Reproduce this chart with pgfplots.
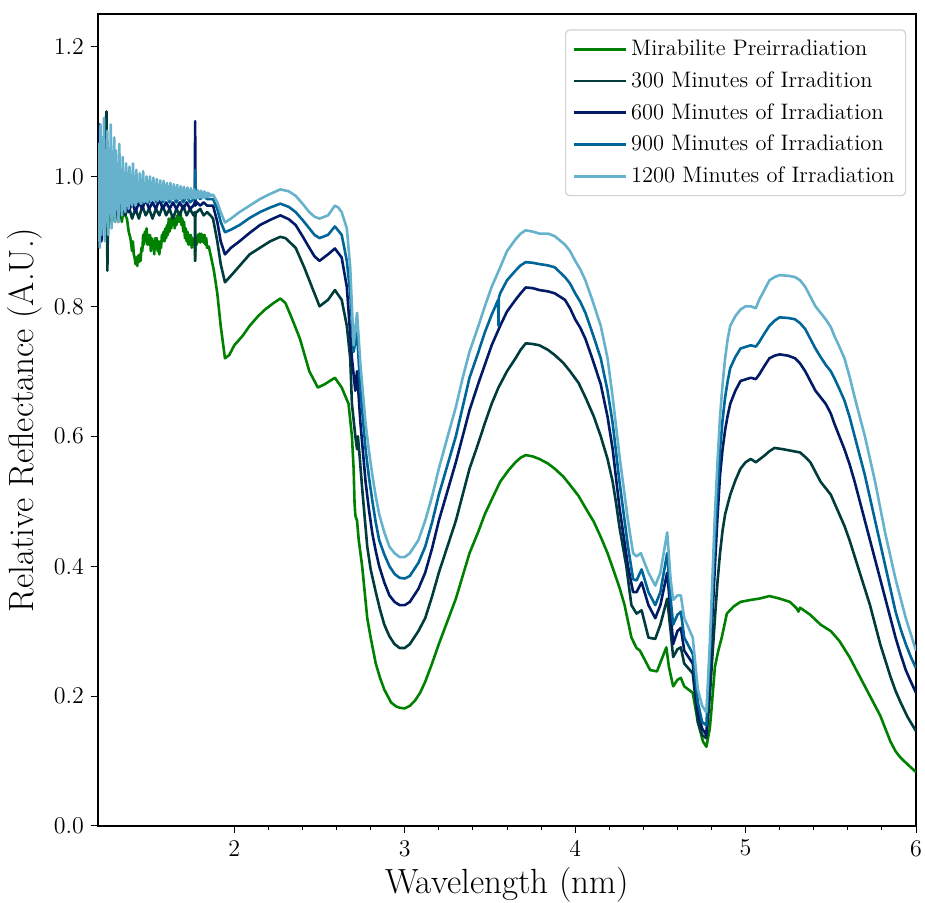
\documentclass[border=0pt]{standalone}
\usepackage{pgfplots}
\pgfplotsset{compat=1.18}

\definecolor{cPre}{RGB}{0,128,0}
\definecolor{cA}{RGB}{0,60,60}
\definecolor{cB}{RGB}{0,26,102}
\definecolor{cC}{RGB}{0,102,153}
\definecolor{cD}{RGB}{102,178,204}

\begin{document}
\begin{tikzpicture}
\path[use as bounding box] (-49pt,-38.5pt) rectangle (413.5pt,413pt);
\begin{axis}[
  scale only axis,
  width=409pt, height=406pt,
  xmin=1.2, xmax=6, ymin=0, ymax=1.25,
  xtick={2,3,4,5,6},
  minor x tick num=4,
  ytick={0,0.2,0.4,0.6,0.8,1.0,1.2},
  yticklabel style={/pgf/number format/.cd, fixed, fixed zerofill, precision=1},
  /pgf/number format/assume math mode=true,
  tick label style={font=\fontsize{12}{14}\selectfont},
  tick align=outside,
  major tick length=3.5pt,
  minor tick length=2pt,
  tick style={black, line width=0.5pt},
  xtick pos=bottom, ytick pos=left,
  axis line style={line width=0.6pt},
  xlabel={Wavelength (nm)},
  ylabel={Relative Reflectance (A.U.)},
  label style={font=\fontsize{17.5}{20}\selectfont},
  xlabel style={at={(axis description cs:0.5,0)}, yshift=-29.5pt, anchor=center},
  ylabel style={at={(axis description cs:0,0.5)}, anchor=center, yshift=36.5pt},
  legend style={at={(rel axis cs:0.988,0.981)}, anchor=north east,
    draw=black!18, rounded corners=2pt, line width=0.6pt,
    font=\fontsize{11.2}{13}\selectfont, row sep=2.5pt,
    inner xsep=3.5pt, inner ysep=3pt},
  legend cell align=left,
  legend image code/.code={\draw[#1, line width=1.3pt] (0pt,0pt) -- (22.5pt,0pt);
    \path (0pt,0pt) -- (26pt,0pt);},
  every axis plot/.append style={line width=1.3pt, line join=round},
]

% Mirabilite before irradiation
\addplot[cPre] coordinates {
(1.20,0.95) (1.22,0.93) (1.24,0.96) (1.26,0.92) (1.28,0.95) (1.30,0.93)
(1.31,0.955) (1.32,0.935) (1.33,0.955) (1.34,0.93) (1.35,0.95) (1.36,0.94)
(1.37,0.935) (1.38,0.915) (1.39,0.905) (1.40,0.885) (1.405,0.9) (1.41,0.88)
(1.415,0.875) (1.42,0.865) (1.425,0.875) (1.43,0.862) (1.435,0.878) (1.44,0.868)
(1.445,0.88) (1.45,0.87) (1.455,0.89) (1.46,0.885) (1.465,0.91) (1.47,0.895)
(1.475,0.915) (1.48,0.90) (1.485,0.92) (1.49,0.895) (1.495,0.91) (1.50,0.895)
(1.505,0.91) (1.51,0.885) (1.515,0.905) (1.52,0.89) (1.525,0.9) (1.53,0.88)
(1.535,0.905) (1.54,0.89) (1.545,0.905) (1.55,0.885) (1.555,0.9) (1.56,0.88)
(1.565,0.9) (1.57,0.89) (1.575,0.91) (1.58,0.9) (1.585,0.915) (1.59,0.9)
(1.595,0.92) (1.60,0.905) (1.605,0.925) (1.61,0.91) (1.615,0.935) (1.62,0.915)
(1.625,0.935) (1.63,0.92) (1.635,0.94) (1.64,0.925) (1.645,0.94) (1.65,0.92)
(1.655,0.935) (1.66,0.925) (1.665,0.94) (1.67,0.93) (1.675,0.945) (1.68,0.93)
(1.685,0.945) (1.69,0.925) (1.695,0.935) (1.70,0.915) (1.705,0.93) (1.71,0.905)
(1.715,0.92) (1.72,0.9) (1.725,0.915) (1.73,0.895) (1.735,0.91) (1.74,0.895)
(1.745,0.91) (1.75,0.89) (1.755,0.905) (1.76,0.895) (1.768,0.9) (1.77,0.87)
(1.772,0.9) (1.78,0.895) (1.785,0.91) (1.79,0.9) (1.795,0.912) (1.80,0.898)
(1.805,0.912) (1.81,0.9) (1.815,0.91) (1.82,0.898) (1.825,0.91) (1.83,0.895)
(1.835,0.905) (1.84,0.89) (1.85,0.892) (1.86,0.88) (1.88,0.855) (1.90,0.82)
(1.92,0.77) (1.945,0.72) (1.97,0.725) (2.00,0.74) (2.05,0.755) (2.09,0.77)
(2.14,0.785) (2.18,0.795) (2.23,0.805) (2.27,0.812) (2.30,0.805) (2.34,0.78)
(2.385,0.75) (2.44,0.70) (2.49,0.675) (2.53,0.68) (2.56,0.685) (2.59,0.69)
(2.63,0.675) (2.67,0.65) (2.69,0.60) (2.70,0.55) (2.705,0.50) (2.71,0.478)
(2.72,0.47) (2.73,0.44) (2.75,0.40) (2.765,0.36) (2.78,0.32) (2.80,0.29)
(2.83,0.25) (2.855,0.228) (2.88,0.21) (2.92,0.19) (2.95,0.184) (2.97,0.182)
(3.00,0.181) (3.03,0.185) (3.06,0.193) (3.09,0.205) (3.12,0.222) (3.16,0.25)
(3.20,0.28) (3.25,0.315) (3.30,0.35) (3.34,0.385) (3.38,0.42) (3.43,0.452)
(3.47,0.48) (3.52,0.508) (3.56,0.53) (3.61,0.548) (3.65,0.56) (3.68,0.567)
(3.71,0.571) (3.75,0.569) (3.79,0.565) (3.84,0.558) (3.88,0.55) (3.93,0.538)
(3.97,0.525) (4.02,0.508) (4.06,0.49) (4.11,0.468) (4.15,0.445) (4.19,0.42)
(4.23,0.39) (4.26,0.367) (4.29,0.34) (4.31,0.315) (4.33,0.29) (4.36,0.274)
(4.38,0.27) (4.41,0.255) (4.44,0.24) (4.48,0.238) (4.52,0.265) (4.535,0.275)
(4.55,0.245) (4.575,0.215) (4.60,0.225) (4.62,0.228) (4.64,0.215) (4.69,0.205)
(4.72,0.16) (4.75,0.13) (4.77,0.122) (4.79,0.15) (4.80,0.18) (4.82,0.245)
(4.84,0.27) (4.86,0.29) (4.89,0.327) (4.93,0.338) (4.97,0.345) (5.03,0.348)
(5.08,0.35) (5.14,0.354) (5.20,0.35) (5.26,0.345) (5.30,0.335) (5.31,0.33)
(5.32,0.336) (5.38,0.325) (5.44,0.31) (5.50,0.30) (5.55,0.285) (5.61,0.26)
(5.67,0.23) (5.73,0.20) (5.79,0.17) (5.82,0.15) (5.85,0.13) (5.88,0.115)
(5.91,0.105) (5.95,0.095) (6.00,0.083)
};
\addlegendentry{Mirabilite Preirradiation}

% 300 minutes
\addplot[cA] coordinates {
(1.20,0.95) (1.22,0.99) (1.23,0.93) (1.24,1.06) (1.25,1.10) (1.255,0.855)
(1.26,0.96) (1.28,0.94) (1.30,0.97) (1.32,0.93) (1.34,0.96) (1.36,0.94)
(1.38,0.955) (1.40,0.935) (1.42,0.95) (1.44,0.935) (1.46,0.955) (1.48,0.94)
(1.50,0.95) (1.52,0.935) (1.54,0.95) (1.56,0.94) (1.58,0.955) (1.60,0.94)
(1.62,0.95) (1.64,0.935) (1.66,0.95) (1.68,0.94) (1.70,0.955) (1.72,0.94)
(1.74,0.95) (1.76,0.94) (1.768,0.945) (1.77,0.87) (1.772,0.945) (1.78,0.945)
(1.80,0.95) (1.82,0.94) (1.84,0.945) (1.86,0.94) (1.875,0.935) (1.90,0.90)
(1.92,0.865) (1.945,0.837) (1.99,0.85) (2.04,0.865) (2.09,0.88) (2.15,0.89)
(2.21,0.90) (2.27,0.907) (2.30,0.905) (2.36,0.89) (2.41,0.86) (2.47,0.82)
(2.50,0.80) (2.55,0.81) (2.59,0.825) (2.63,0.81) (2.66,0.77) (2.68,0.72)
(2.69,0.65) (2.71,0.60) (2.72,0.58) (2.725,0.60) (2.735,0.57) (2.75,0.52)
(2.765,0.475) (2.78,0.43) (2.80,0.395) (2.83,0.36) (2.855,0.333) (2.88,0.31)
(2.91,0.292) (2.94,0.28) (2.97,0.274) (3.00,0.274) (3.03,0.28) (3.08,0.30)
(3.12,0.32) (3.16,0.353) (3.20,0.39) (3.25,0.43) (3.30,0.47) (3.34,0.51)
(3.38,0.55) (3.43,0.588) (3.47,0.62) (3.51,0.65) (3.55,0.675) (3.60,0.70)
(3.65,0.72) (3.68,0.733) (3.71,0.743) (3.75,0.742) (3.79,0.74) (3.84,0.733)
(3.88,0.725) (3.93,0.713) (3.97,0.70) (4.02,0.682) (4.06,0.66) (4.11,0.63)
(4.15,0.60) (4.19,0.565) (4.22,0.53) (4.24,0.497) (4.26,0.46) (4.28,0.43)
(4.30,0.40) (4.33,0.34) (4.36,0.327) (4.39,0.332) (4.43,0.29) (4.47,0.288)
(4.50,0.31) (4.54,0.35) (4.56,0.30) (4.575,0.26) (4.60,0.272) (4.62,0.275)
(4.64,0.25) (4.69,0.235) (4.72,0.16) (4.745,0.14) (4.77,0.135) (4.79,0.20)
(4.805,0.26) (4.82,0.32) (4.835,0.375) (4.85,0.42) (4.865,0.455) (4.88,0.48)
(4.91,0.51) (4.94,0.532) (4.97,0.55) (5.00,0.56) (5.03,0.565) (5.06,0.56)
(5.11,0.57) (5.14,0.577) (5.17,0.582) (5.22,0.58) (5.26,0.578) (5.32,0.575)
(5.35,0.568) (5.38,0.56) (5.41,0.545) (5.44,0.53) (5.47,0.52) (5.50,0.51)
(5.525,0.495) (5.55,0.48) (5.58,0.462) (5.61,0.44) (5.64,0.415) (5.67,0.39)
(5.70,0.365) (5.73,0.34) (5.76,0.31) (5.79,0.28) (5.82,0.255) (5.85,0.23)
(5.88,0.208) (5.91,0.19) (5.95,0.168) (6.00,0.146)
};
\addlegendentry{300 Minutes of Irradition}

% 600 minutes
\addplot[cB] coordinates {
(1.20,0.97) (1.21,1.08) (1.22,0.90) (1.24,1.02) (1.26,0.95) (1.28,0.98)
(1.30,0.94) (1.32,0.97) (1.34,0.95) (1.36,0.965) (1.38,0.945) (1.40,0.96)
(1.42,0.945) (1.44,0.96) (1.46,0.95) (1.48,0.965) (1.50,0.95) (1.52,0.96)
(1.54,0.95) (1.56,0.965) (1.58,0.95) (1.60,0.96) (1.62,0.95) (1.64,0.96)
(1.66,0.95) (1.68,0.96) (1.70,0.95) (1.72,0.96) (1.74,0.95) (1.76,0.955)
(1.768,0.96) (1.77,1.085) (1.772,0.955) (1.78,0.96) (1.80,0.955) (1.82,0.96)
(1.84,0.955) (1.875,0.955) (1.90,0.93) (1.92,0.90) (1.945,0.88) (1.98,0.89)
(2.03,0.90) (2.09,0.913) (2.15,0.925) (2.21,0.933) (2.27,0.94) (2.32,0.934)
(2.36,0.925) (2.40,0.908) (2.44,0.89) (2.47,0.877) (2.50,0.87) (2.55,0.88)
(2.59,0.889) (2.63,0.875) (2.66,0.83) (2.69,0.72) (2.71,0.67) (2.72,0.70)
(2.74,0.62) (2.755,0.575) (2.77,0.53) (2.79,0.487) (2.81,0.45) (2.83,0.423)
(2.85,0.40) (2.88,0.375) (2.91,0.355) (2.94,0.345) (2.97,0.34) (3.00,0.34)
(3.03,0.345) (3.08,0.365) (3.12,0.39) (3.16,0.427) (3.20,0.47) (3.25,0.515)
(3.30,0.56) (3.34,0.60) (3.38,0.64) (3.43,0.68) (3.47,0.71) (3.51,0.74)
(3.56,0.77) (3.60,0.792) (3.65,0.81) (3.68,0.82) (3.71,0.829) (3.75,0.828)
(3.79,0.825) (3.84,0.823) (3.88,0.82) (3.94,0.81) (3.97,0.797) (4.00,0.78)
(4.03,0.767) (4.06,0.75) (4.10,0.72) (4.15,0.68) (4.19,0.63) (4.22,0.58)
(4.24,0.535) (4.26,0.49) (4.285,0.445) (4.31,0.40) (4.34,0.36) (4.36,0.36)
(4.39,0.375) (4.43,0.34) (4.47,0.32) (4.50,0.34) (4.54,0.39) (4.56,0.33)
(4.575,0.28) (4.60,0.30) (4.62,0.305) (4.64,0.27) (4.69,0.25) (4.72,0.175)
(4.745,0.15) (4.77,0.14) (4.79,0.24) (4.805,0.32) (4.82,0.40) (4.835,0.475)
(4.85,0.54) (4.865,0.58) (4.88,0.61) (4.895,0.632) (4.91,0.65) (4.94,0.67)
(4.97,0.685) (5.03,0.69) (5.06,0.688) (5.08,0.695) (5.11,0.708) (5.14,0.72)
(5.17,0.724) (5.20,0.726) (5.25,0.724) (5.29,0.72) (5.32,0.712) (5.35,0.70)
(5.38,0.685) (5.41,0.67) (5.44,0.66) (5.47,0.65) (5.50,0.635) (5.52,0.62)
(5.55,0.60) (5.58,0.58) (5.61,0.557) (5.64,0.53) (5.67,0.50) (5.70,0.47)
(5.73,0.44) (5.76,0.41) (5.79,0.38) (5.82,0.35) (5.85,0.32) (5.88,0.29)
(5.91,0.264) (5.94,0.24) (5.97,0.222) (6.00,0.205)
};
\addlegendentry{600 Minutes of Irradiation}

% 900 minutes
\addplot[cC] coordinates {
(1.20,0.96) (1.21,1.05) (1.22,0.92) (1.24,1.03) (1.26,0.95) (1.28,0.99)
(1.30,0.95) (1.32,0.98) (1.34,0.955) (1.36,0.975) (1.38,0.96) (1.40,0.975)
(1.42,0.96) (1.44,0.97) (1.46,0.96) (1.48,0.975) (1.50,0.96) (1.52,0.97)
(1.54,0.96) (1.56,0.975) (1.58,0.96) (1.60,0.97) (1.62,0.96) (1.64,0.97)
(1.66,0.96) (1.68,0.97) (1.70,0.96) (1.72,0.97) (1.74,0.96) (1.76,0.965)
(1.768,0.965) (1.77,1.01) (1.772,0.965) (1.78,0.97) (1.80,0.965) (1.82,0.97)
(1.84,0.965) (1.875,0.965) (1.90,0.95) (1.92,0.93) (1.945,0.914) (1.98,0.918)
(2.03,0.925) (2.09,0.936) (2.15,0.945) (2.21,0.952) (2.27,0.958) (2.32,0.953)
(2.36,0.945) (2.40,0.933) (2.44,0.92) (2.47,0.91) (2.50,0.905) (2.55,0.91)
(2.59,0.923) (2.63,0.91) (2.66,0.87) (2.68,0.82) (2.70,0.73) (2.72,0.76)
(2.74,0.67) (2.755,0.625) (2.77,0.58) (2.79,0.537) (2.81,0.50) (2.83,0.467)
(2.85,0.44) (2.88,0.418) (2.91,0.40) (2.94,0.388) (2.97,0.382) (3.00,0.381)
(3.03,0.385) (3.08,0.405) (3.12,0.43) (3.16,0.467) (3.20,0.51) (3.25,0.555)
(3.30,0.60) (3.34,0.645) (3.38,0.69) (3.43,0.728) (3.47,0.76) (3.51,0.787)
(3.548,0.81) (3.55,0.77) (3.552,0.813) (3.56,0.82) (3.60,0.84) (3.65,0.855)
(3.68,0.863) (3.71,0.868) (3.75,0.867) (3.79,0.865) (3.84,0.863) (3.88,0.86)
(3.94,0.845) (3.97,0.835) (4.00,0.82) (4.03,0.807) (4.06,0.79) (4.10,0.76)
(4.15,0.72) (4.19,0.67) (4.22,0.62) (4.24,0.575) (4.26,0.53) (4.285,0.48)
(4.31,0.43) (4.34,0.38) (4.36,0.378) (4.39,0.395) (4.43,0.36) (4.47,0.34)
(4.50,0.36) (4.54,0.42) (4.56,0.35) (4.575,0.31) (4.60,0.325) (4.62,0.33)
(4.64,0.29) (4.69,0.265) (4.72,0.19) (4.745,0.16) (4.77,0.155) (4.79,0.26)
(4.805,0.35) (4.82,0.44) (4.835,0.515) (4.85,0.58) (4.865,0.625) (4.88,0.66)
(4.895,0.685) (4.91,0.705) (4.94,0.722) (4.97,0.735) (5.03,0.74) (5.06,0.738)
(5.08,0.745) (5.11,0.758) (5.14,0.77) (5.17,0.778) (5.20,0.783) (5.25,0.782)
(5.29,0.78) (5.32,0.774) (5.35,0.765) (5.38,0.75) (5.41,0.735) (5.44,0.722)
(5.47,0.71) (5.50,0.70) (5.52,0.69) (5.55,0.673) (5.58,0.655) (5.61,0.63)
(5.64,0.60) (5.67,0.57) (5.70,0.54) (5.73,0.505) (5.76,0.47) (5.79,0.435)
(5.82,0.40) (5.85,0.365) (5.88,0.33) (5.91,0.303) (5.94,0.28) (5.97,0.26)
(6.00,0.243)
};
\addlegendentry{900 Minutes of Irradiation}

% 1200 minutes
\addplot[cD] coordinates {
(1.200,0.90) (1.205,1.05) (1.210,0.89) (1.215,1.08) (1.220,0.91) (1.225,1.06)
(1.230,0.92) (1.235,1.09) (1.240,0.90) (1.245,1.04) (1.250,0.93) (1.255,1.07)
(1.260,0.91) (1.265,1.03) (1.270,0.95) (1.275,1.08) (1.280,0.92) (1.285,1.02)
(1.290,0.94) (1.295,1.06) (1.300,0.93) (1.305,1.04) (1.310,0.95) (1.315,1.02)
(1.320,0.93) (1.325,1.05) (1.330,0.96) (1.335,1.01) (1.340,0.94) (1.345,1.03)
(1.350,0.95) (1.355,1.00) (1.360,0.945) (1.365,1.02) (1.370,0.955) (1.375,1.005)
(1.380,0.95) (1.385,1.015) (1.390,0.96) (1.395,0.995) (1.400,0.955) (1.405,1.02)
(1.410,0.96) (1.415,0.995) (1.420,0.955) (1.425,1.01) (1.430,0.96) (1.435,0.99)
(1.440,0.962) (1.445,1.005) (1.450,0.958) (1.455,0.995) (1.460,0.963) (1.465,1.008)
(1.470,0.96) (1.475,0.99) (1.480,0.962) (1.485,1.0) (1.490,0.96) (1.495,0.993)
(1.500,0.965) (1.505,1.0) (1.510,0.962) (1.515,0.99) (1.520,0.964) (1.525,0.998)
(1.530,0.962) (1.535,0.988) (1.540,0.965) (1.545,0.996) (1.550,0.962) (1.555,0.987)
(1.560,0.966) (1.565,0.994) (1.570,0.963) (1.575,0.986) (1.580,0.965) (1.585,0.993)
(1.590,0.963) (1.595,0.985) (1.600,0.966) (1.605,0.99) (1.610,0.964) (1.615,0.984)
(1.620,0.966) (1.625,0.99) (1.630,0.964) (1.635,0.983) (1.640,0.966) (1.645,0.988)
(1.650,0.965) (1.655,0.982) (1.660,0.967) (1.665,0.987) (1.670,0.965) (1.675,0.981)
(1.680,0.967) (1.685,0.985) (1.690,0.965) (1.695,0.98) (1.700,0.967) (1.705,0.984)
(1.710,0.966) (1.715,0.979) (1.720,0.967) (1.725,0.983) (1.730,0.966) (1.735,0.978)
(1.740,0.967) (1.745,0.982) (1.750,0.966) (1.755,0.977) (1.760,0.967) (1.765,0.98)
(1.770,0.966) (1.775,0.976) (1.780,0.967) (1.785,0.979) (1.790,0.967) (1.795,0.976)
(1.800,0.968) (1.805,0.978) (1.810,0.967) (1.815,0.975) (1.820,0.968) (1.825,0.977)
(1.830,0.968) (1.835,0.974) (1.840,0.968) (1.845,0.975) (1.850,0.969) (1.855,0.973)
(1.860,0.97) (1.875,0.972) (1.90,0.96)
(1.92,0.945) (1.945,0.929) (1.98,0.935) (2.03,0.945) (2.09,0.955) (2.15,0.965)
(2.21,0.973) (2.27,0.98) (2.32,0.977) (2.36,0.97) (2.40,0.958) (2.44,0.945)
(2.47,0.938) (2.50,0.935) (2.55,0.94) (2.59,0.955) (2.61,0.952) (2.63,0.945)
(2.66,0.92) (2.68,0.86) (2.70,0.74) (2.72,0.79) (2.74,0.71) (2.755,0.665)
(2.77,0.62) (2.79,0.577) (2.81,0.54) (2.83,0.507) (2.85,0.48) (2.88,0.452)
(2.91,0.43) (2.94,0.42) (2.97,0.414) (3.00,0.414) (3.03,0.42) (3.08,0.44)
(3.12,0.47) (3.16,0.507) (3.20,0.55) (3.25,0.598) (3.30,0.645) (3.34,0.69)
(3.38,0.73) (3.43,0.768) (3.47,0.80) (3.51,0.83) (3.56,0.86) (3.60,0.885)
(3.65,0.903) (3.68,0.912) (3.71,0.917) (3.75,0.915) (3.79,0.912) (3.84,0.912)
(3.88,0.908) (3.94,0.895) (3.97,0.885) (4.00,0.87) (4.03,0.857) (4.06,0.84)
(4.10,0.81) (4.15,0.77) (4.19,0.72) (4.22,0.66) (4.24,0.615) (4.26,0.57)
(4.285,0.52) (4.31,0.47) (4.34,0.42) (4.36,0.415) (4.385,0.42) (4.43,0.39)
(4.47,0.37) (4.50,0.39) (4.54,0.452) (4.56,0.38) (4.575,0.348) (4.60,0.355)
(4.62,0.355) (4.64,0.32) (4.69,0.29) (4.72,0.21) (4.745,0.185) (4.77,0.175)
(4.79,0.28) (4.805,0.38) (4.82,0.48) (4.835,0.56) (4.85,0.63) (4.865,0.68)
(4.88,0.72) (4.895,0.75) (4.91,0.77) (4.94,0.785) (4.97,0.795) (5.00,0.80)
(5.03,0.80) (5.06,0.797) (5.08,0.81) (5.11,0.825) (5.14,0.84) (5.17,0.845)
(5.20,0.848) (5.25,0.847) (5.29,0.845) (5.32,0.84) (5.35,0.83) (5.38,0.815)
(5.41,0.80) (5.44,0.79) (5.47,0.78) (5.50,0.768) (5.52,0.755) (5.55,0.738)
(5.58,0.72) (5.61,0.692) (5.64,0.66) (5.67,0.63) (5.70,0.60) (5.73,0.565)
(5.76,0.53) (5.79,0.49) (5.82,0.45) (5.85,0.415) (5.88,0.38) (5.91,0.35)
(5.94,0.32) (5.97,0.295) (6.00,0.27)
};
\addlegendentry{1200 Minutes of Irradiation}
\end{axis}
\end{tikzpicture}
\end{document}
